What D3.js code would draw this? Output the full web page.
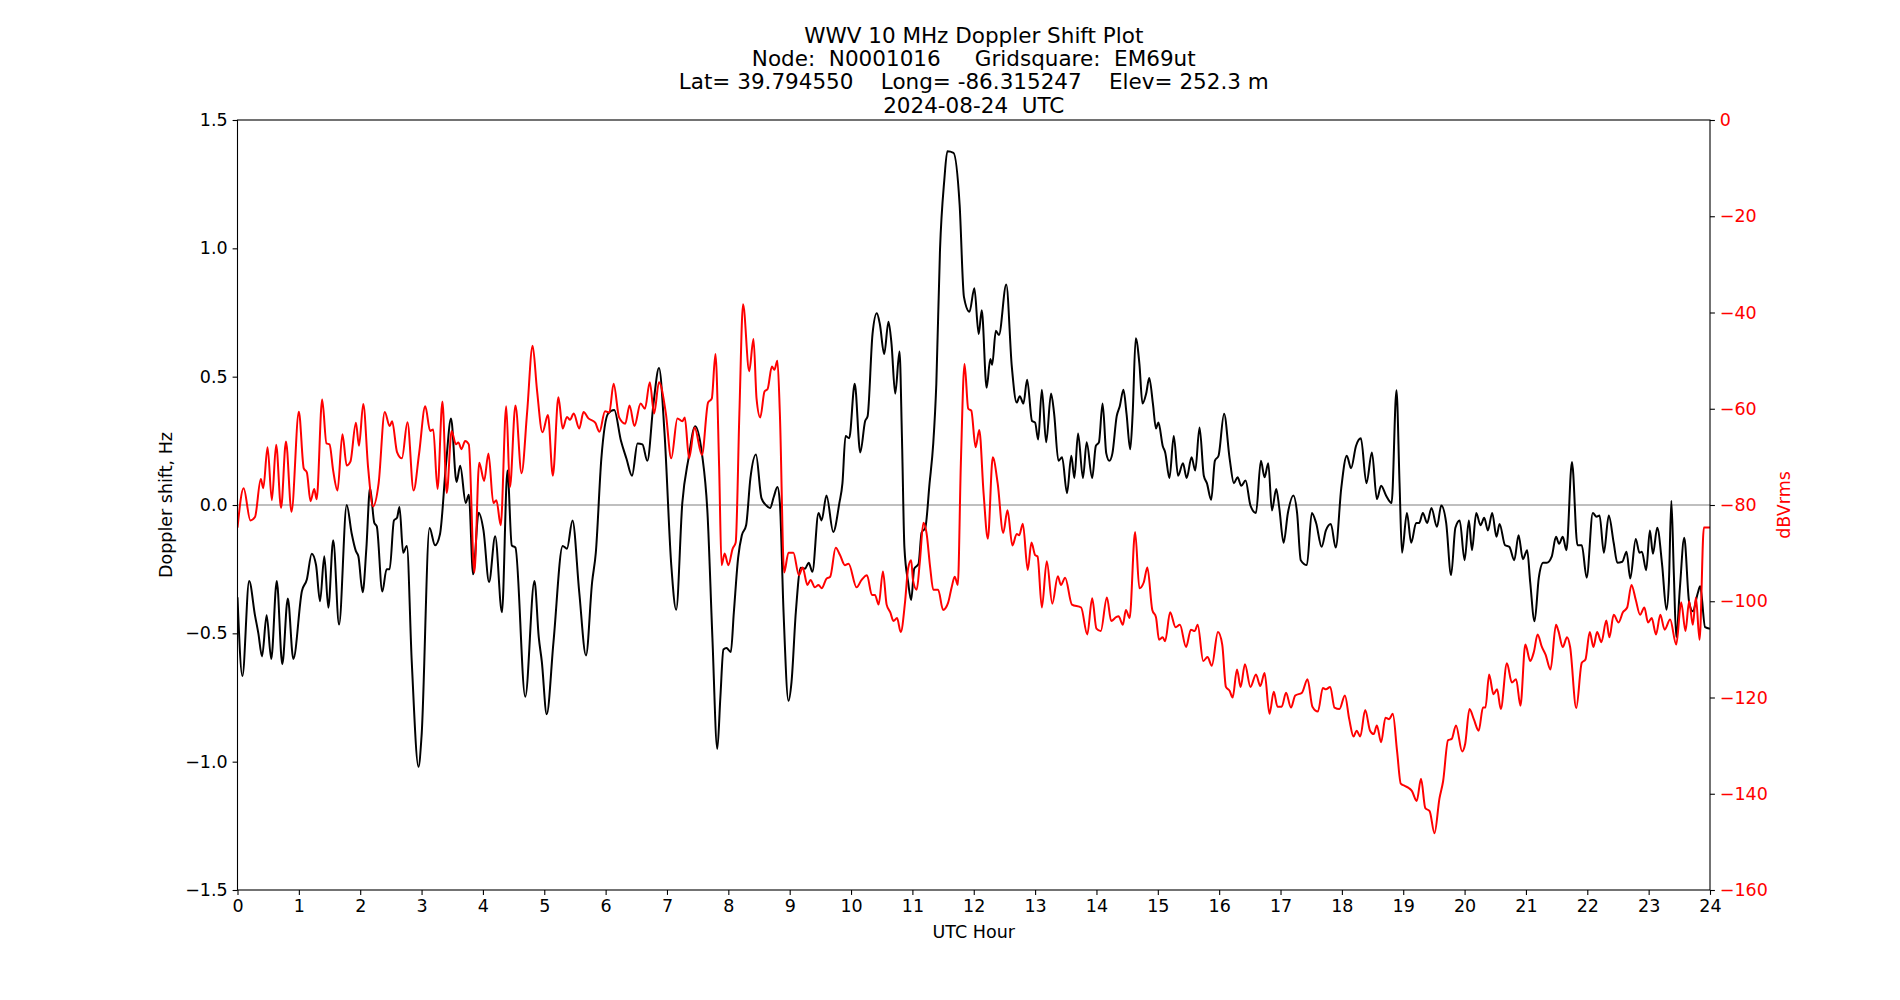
<!DOCTYPE html>
<html>
<head>
<meta charset="utf-8">
<script src="https://cdn.jsdelivr.net/npm/d3@7"></script>
<style>
  body { margin: 0; background: #fff; }
  svg text { font-family: "DejaVu Sans", sans-serif; }
</style>
</head>
<body>
<div id="chart"></div>
<script>
const titleLines = [
  'WWV 10 MHz Doppler Shift Plot',
  'Node:  N0001016     Gridsquare:  EM69ut',
  'Lat= 39.794550    Long= -86.315247    Elev= 252.3 m',
  '2024-08-24  UTC'
];
const xLabel = 'UTC Hour';
const yLabelLeft = 'Doppler shift, Hz';
const yLabelRight = 'dBVrms';

const hourTicks = [0, 1, 2, 3, 4, 5, 6, 7, 8, 9, 10, 11, 12, 13, 14, 15, 16, 17, 18, 19, 20, 21, 22, 23, 24];
const dopplerTicks = [-1.5, -1.0, -0.5, 0.0, 0.5, 1.0, 1.5];
const dbTicks = [0, -20, -40, -60, -80, -100, -120, -140, -160];

// [UTC hour, Doppler shift Hz]
const doppler = [
  [0, -0.36], [0.08, -0.666], [0.19, -0.296], [0.285, -0.43], [0.34, -0.5], [0.4, -0.59], [0.475, -0.43],
  [0.55, -0.6], [0.64, -0.296], [0.73, -0.62], [0.82, -0.364], [0.91, -0.6], [1.05, -0.335], [1.13, -0.29],
  [1.21, -0.19], [1.28, -0.234], [1.345, -0.375], [1.415, -0.2], [1.48, -0.4], [1.56, -0.137], [1.655, -0.466],
  [1.78, 0.0], [1.86, -0.11], [1.93, -0.18], [1.97, -0.2], [2.04, -0.34], [2.1, -0.17], [2.16, 0.066],
  [2.23, -0.07], [2.27, -0.083], [2.36, -0.337], [2.43, -0.25], [2.48, -0.25], [2.55, -0.06], [2.6, -0.05],
  [2.64, -0.008], [2.7, -0.186], [2.76, -0.16], [2.84, -0.61], [2.95, -1.02], [3.0, -0.9], [3.13, -0.09],
  [3.22, -0.157], [3.3, -0.114], [3.4, 0.163], [3.48, 0.337], [3.57, 0.09], [3.63, 0.153], [3.72, 0.008],
  [3.77, 0.04], [3.84, -0.27], [3.93, -0.03], [4.01, -0.1], [4.1, -0.3], [4.2, -0.122], [4.31, -0.418],
  [4.4, 0.134], [4.47, -0.157], [4.53, -0.166], [4.69, -0.747], [4.84, -0.296], [4.91, -0.515], [4.96, -0.61],
  [5.04, -0.815], [5.15, -0.534], [5.3, -0.16], [5.37, -0.17], [5.46, -0.06], [5.57, -0.34], [5.68, -0.586],
  [5.78, -0.3], [5.84, -0.186], [5.93, 0.18], [6.04, 0.356], [6.14, 0.37], [6.25, 0.25], [6.34, 0.18],
  [6.43, 0.114], [6.52, 0.24], [6.6, 0.236], [6.68, 0.172], [6.78, 0.395], [6.87, 0.534], [6.96, 0.28],
  [7.07, -0.234], [7.15, -0.408], [7.25, 0.008], [7.35, 0.18], [7.46, 0.307], [7.57, 0.2], [7.66, -0.03],
  [7.74, -0.515], [7.82, -0.95], [7.87, -0.75], [7.92, -0.563], [7.97, -0.557], [8.04, -0.573], [8.09, -0.418],
  [8.16, -0.205], [8.22, -0.118], [8.29, -0.079], [8.36, 0.105], [8.45, 0.197], [8.54, 0.027], [8.62, -0.002],
  [8.68, -0.012], [8.74, 0.031], [8.8, 0.07], [8.84, 0.008], [8.9, -0.418], [8.98, -0.763], [9.03, -0.689],
  [9.1, -0.418], [9.18, -0.244], [9.25, -0.248], [9.31, -0.225], [9.37, -0.26], [9.47, -0.031], [9.52, -0.06],
  [9.6, 0.037], [9.71, -0.105], [9.81, 0.008], [9.86, 0.085], [9.91, 0.269], [9.97, 0.26], [10.06, 0.472],
  [10.15, 0.205], [10.23, 0.327], [10.27, 0.346], [10.35, 0.666], [10.42, 0.747], [10.47, 0.704], [10.54, 0.588],
  [10.61, 0.714], [10.66, 0.627], [10.72, 0.434], [10.79, 0.598], [10.83, 0.26], [10.87, -0.166], [10.93, -0.3],
  [10.98, -0.37], [11.03, -0.248], [11.1, -0.23], [11.15, -0.108], [11.21, -0.089], [11.28, 0.085], [11.34, 0.24],
  [11.39, 0.472], [11.45, 0.995], [11.52, 1.266], [11.57, 1.378], [11.67, 1.372], [11.77, 1.169], [11.84, 0.811],
  [11.93, 0.753], [12.01, 0.844], [12.08, 0.666], [12.13, 0.759], [12.21, 0.457], [12.27, 0.569], [12.3, 0.546],
  [12.36, 0.679], [12.41, 0.662], [12.53, 0.859], [12.62, 0.54], [12.7, 0.399], [12.75, 0.424], [12.81, 0.395],
  [12.87, 0.488], [12.95, 0.327], [13.0, 0.321], [13.05, 0.255], [13.11, 0.449], [13.18, 0.244], [13.26, 0.434],
  [13.31, 0.356], [13.38, 0.172], [13.44, 0.186], [13.52, 0.046], [13.59, 0.192], [13.64, 0.105], [13.7, 0.279],
  [13.78, 0.105], [13.84, 0.244], [13.93, 0.105], [13.99, 0.23], [14.04, 0.244], [14.1, 0.395], [14.16, 0.201],
  [14.21, 0.172], [14.26, 0.201], [14.33, 0.346], [14.38, 0.385], [14.44, 0.449], [14.49, 0.356], [14.55, 0.217],
  [14.59, 0.356], [14.64, 0.65], [14.7, 0.55], [14.75, 0.395], [14.81, 0.434], [14.86, 0.495], [14.92, 0.395],
  [14.97, 0.298], [15.01, 0.321], [15.08, 0.23], [15.12, 0.205], [15.19, 0.105], [15.26, 0.269], [15.33, 0.114],
  [15.41, 0.163], [15.47, 0.105], [15.55, 0.186], [15.61, 0.134], [15.68, 0.302], [15.75, 0.114], [15.8, 0.085],
  [15.87, 0.02], [15.93, 0.172], [15.99, 0.192], [16.08, 0.356], [16.17, 0.182], [16.24, 0.085], [16.3, 0.108],
  [16.36, 0.075], [16.43, 0.095], [16.51, -0.002], [16.6, -0.031], [16.68, 0.172], [16.74, 0.108], [16.8, 0.163],
  [16.86, -0.021], [16.93, 0.062], [16.98, -0.012], [17.05, -0.147], [17.12, -0.031], [17.21, 0.037], [17.27, -0.031],
  [17.33, -0.215], [17.43, -0.234], [17.51, -0.031], [17.58, -0.07], [17.67, -0.163], [17.74, -0.099], [17.82, -0.074],
  [17.9, -0.166], [17.99, 0.066], [18.08, 0.192], [18.15, 0.143], [18.23, 0.23], [18.31, 0.26], [18.4, 0.085],
  [18.49, 0.205], [18.57, 0.023], [18.64, 0.075], [18.72, 0.037], [18.81, 0.008], [18.89, 0.447], [18.94, 0.085],
  [18.98, -0.186], [19.06, -0.031], [19.13, -0.147], [19.21, -0.07], [19.26, -0.07], [19.32, -0.031], [19.39, -0.07],
  [19.46, -0.012], [19.55, -0.085], [19.62, -0.002], [19.7, -0.07], [19.78, -0.273], [19.85, -0.089], [19.92, -0.06],
  [20.0, -0.215], [20.07, -0.06], [20.12, -0.176], [20.19, -0.031], [20.26, -0.079], [20.32, -0.05], [20.38, -0.099],
  [20.45, -0.031], [20.52, -0.124], [20.57, -0.074], [20.66, -0.157], [20.73, -0.163], [20.81, -0.215], [20.88, -0.118],
  [20.95, -0.211], [21.02, -0.176], [21.07, -0.302], [21.14, -0.453], [21.21, -0.283], [21.28, -0.225], [21.34, -0.225],
  [21.42, -0.201], [21.49, -0.124], [21.54, -0.151], [21.6, -0.124], [21.66, -0.176], [21.75, 0.168], [21.84, -0.157],
  [21.91, -0.157], [21.99, -0.283], [22.09, -0.031], [22.15, -0.046], [22.2, -0.041], [22.27, -0.186], [22.35, -0.041],
  [22.43, -0.147], [22.49, -0.225], [22.57, -0.221], [22.64, -0.182], [22.7, -0.286], [22.79, -0.132], [22.85, -0.186],
  [22.89, -0.182], [22.96, -0.254], [23.02, -0.099], [23.07, -0.19], [23.14, -0.089], [23.22, -0.234], [23.29, -0.408],
  [23.33, -0.302], [23.37, 0.017], [23.41, -0.263], [23.45, -0.515], [23.51, -0.321], [23.58, -0.128], [23.66, -0.379],
  [23.72, -0.414], [23.8, -0.344], [23.84, -0.317], [23.92, -0.476], [24.0, -0.482]
];

// [UTC hour, signal level dBVrms]
const signal = [
  [0, -84.7], [0.1, -76.5], [0.21, -83.2], [0.285, -82.5], [0.38, -74.6], [0.42, -76.5], [0.49, -68],
  [0.56, -79], [0.63, -67.5], [0.71, -80.6], [0.79, -66.8], [0.88, -81.4], [1.0, -60.6], [1.08, -72.4],
  [1.13, -73.2], [1.19, -79.2], [1.25, -76.7], [1.29, -78.8], [1.38, -58.1], [1.45, -67.2], [1.5, -67.4],
  [1.56, -72.9], [1.63, -77], [1.71, -65.3], [1.78, -71.8], [1.84, -71], [1.93, -62.9], [1.98, -67.7],
  [2.05, -59], [2.13, -72.4], [2.21, -80.3], [2.3, -75.5], [2.4, -60.7], [2.48, -63.6], [2.52, -62.6],
  [2.6, -69], [2.68, -70.3], [2.77, -62.8], [2.87, -77], [2.96, -69.3], [3.06, -59.5], [3.14, -64.6],
  [3.19, -64.3], [3.26, -76.7], [3.34, -58.5], [3.41, -77.5], [3.49, -64.6], [3.56, -67.4], [3.6, -67],
  [3.65, -68.4], [3.71, -66.7], [3.77, -67.4], [3.86, -94], [3.94, -71.2], [4.02, -75], [4.09, -69.3],
  [4.17, -79.6], [4.22, -79], [4.29, -84.2], [4.38, -59.5], [4.44, -76.3], [4.53, -59.3], [4.63, -73.4],
  [4.72, -60.8], [4.81, -46.9], [4.88, -55.9], [4.97, -64.9], [5.06, -61.3], [5.14, -73.9], [5.23, -57.6],
  [5.3, -64.1], [5.37, -61.7], [5.42, -62.3], [5.48, -61], [5.57, -64.1], [5.64, -60.7], [5.72, -62],
  [5.83, -62.9], [5.9, -64.8], [5.99, -60.5], [6.06, -60.8], [6.13, -54.8], [6.22, -61.8], [6.32, -63.1],
  [6.39, -59.3], [6.47, -63.6], [6.57, -58.9], [6.64, -60], [6.72, -54.5], [6.79, -61], [6.87, -54.5],
  [6.98, -60.8], [7.07, -70.3], [7.17, -62], [7.25, -62.6], [7.29, -61.8], [7.36, -70.3], [7.45, -63.9],
  [7.57, -69.6], [7.67, -58.7], [7.73, -57.9], [7.79, -48.6], [7.85, -72], [7.89, -92.5], [7.94, -90.1],
  [8.0, -92.5], [8.07, -89.1], [8.12, -87.8], [8.18, -61], [8.24, -38.3], [8.34, -52.2], [8.41, -45.5],
  [8.46, -57.9], [8.52, -61.8], [8.59, -56.4], [8.64, -55.9], [8.71, -51.2], [8.75, -51.9], [8.8, -50],
  [8.84, -61], [8.91, -94], [8.98, -89.9], [9.06, -89.9], [9.15, -94.6], [9.21, -93], [9.29, -96.6],
  [9.34, -95.6], [9.41, -97.1], [9.47, -96.6], [9.52, -97.3], [9.6, -95.3], [9.66, -94.9], [9.75, -88.9],
  [9.82, -90.4], [9.9, -92.5], [9.96, -92.2], [10.09, -97.1], [10.17, -95.6], [10.26, -94.6], [10.34, -98.7],
  [10.39, -98.7], [10.45, -100.7], [10.52, -93.8], [10.58, -100.7], [10.64, -102.3], [10.69, -104.1], [10.75, -103.5],
  [10.81, -106.4], [10.88, -100.2], [10.93, -93.2], [10.98, -91.5], [11.01, -95.6], [11.07, -97.6], [11.12, -92],
  [11.18, -83.7], [11.23, -85.8], [11.29, -93], [11.34, -97.6], [11.42, -97.6], [11.5, -101.8], [11.58, -100.4],
  [11.64, -97.1], [11.69, -94.9], [11.74, -96.6], [11.79, -71.3], [11.85, -50.7], [11.91, -60], [11.96, -60.4],
  [12.03, -68], [12.09, -64.4], [12.16, -77.5], [12.23, -87], [12.31, -70.1], [12.39, -75.5], [12.48, -85.8],
  [12.55, -81.1], [12.63, -88.4], [12.7, -86], [12.74, -86.3], [12.8, -83.9], [12.88, -93.5], [12.94, -87.8],
  [13.0, -90.4], [13.04, -90.7], [13.11, -101.3], [13.19, -91.7], [13.28, -100.5], [13.37, -94.8], [13.42, -96.6],
  [13.49, -95.1], [13.6, -100.7], [13.75, -101.3], [13.85, -106.9], [13.93, -99.4], [14.0, -105.7], [14.07, -106.2],
  [14.17, -99.2], [14.24, -104.1], [14.32, -103.3], [14.36, -103.1], [14.43, -104.9], [14.48, -101.8], [14.54, -103.5],
  [14.63, -85.6], [14.7, -97.3], [14.77, -96.1], [14.83, -93], [14.91, -101.8], [14.97, -103.3], [15.02, -108],
  [15.08, -107.5], [15.12, -108.3], [15.2, -102.3], [15.29, -105.4], [15.36, -104.9], [15.46, -109.5], [15.54, -105.9],
  [15.6, -106.2], [15.65, -104.9], [15.74, -112.4], [15.81, -111.6], [15.88, -113.4], [15.98, -106.4], [16.05, -109],
  [16.11, -117.8], [16.17, -118.6], [16.22, -120], [16.29, -114.2], [16.35, -117.8], [16.42, -113.1], [16.51, -117.8],
  [16.6, -115.2], [16.67, -117.6], [16.74, -114.9], [16.82, -123.4], [16.89, -118.8], [16.95, -121.9], [17.02, -121.9],
  [17.09, -119], [17.17, -122.1], [17.24, -119.6], [17.35, -119], [17.44, -116.2], [17.52, -121.9], [17.61, -122.9],
  [17.69, -118], [17.74, -118.3], [17.81, -117.8], [17.88, -122.1], [17.96, -122.4], [18.05, -119.6], [18.12, -124.5],
  [18.19, -128.1], [18.24, -126.9], [18.3, -128.1], [18.38, -122.6], [18.46, -126.9], [18.52, -127.6], [18.57, -125.8],
  [18.64, -129.3], [18.71, -124.2], [18.77, -124.5], [18.83, -123.4], [18.9, -131.2], [18.96, -137.9], [19.03, -138.4],
  [19.1, -138.9], [19.14, -139.4], [19.22, -141.5], [19.29, -136.9], [19.36, -143], [19.43, -143.6], [19.51, -148.2],
  [19.59, -141], [19.65, -137.4], [19.73, -128.9], [19.79, -128.6], [19.86, -125.8], [19.96, -131.2], [20.01, -129.6],
  [20.08, -122.4], [20.15, -124.5], [20.23, -126.9], [20.3, -122.1], [20.34, -122.1], [20.4, -115.2], [20.47, -119.3],
  [20.53, -118.3], [20.59, -122.4], [20.69, -112.9], [20.77, -116.9], [20.84, -116.2], [20.91, -121.7], [20.99, -109],
  [21.07, -112.4], [21.13, -110.5], [21.19, -106.9], [21.26, -109.5], [21.32, -111.1], [21.4, -114.2], [21.49, -104.9],
  [21.53, -106.2], [21.6, -109.5], [21.67, -107.5], [21.72, -109.5], [21.82, -122.2], [21.91, -112.8], [21.97, -112.1],
  [22.04, -106.4], [22.1, -109.5], [22.16, -106.4], [22.23, -108.5], [22.31, -104], [22.36, -107.5], [22.43, -102.8],
  [22.51, -104.4], [22.58, -102.3], [22.65, -101.3], [22.72, -96.6], [22.79, -99.7], [22.86, -102.8], [22.93, -101.3],
  [22.99, -104.4], [23.05, -103.5], [23.12, -106.9], [23.19, -102.8], [23.26, -105.9], [23.35, -103.8], [23.45, -109],
  [23.53, -100.2], [23.6, -106.2], [23.66, -100], [23.72, -104.9], [23.77, -99.2], [23.83, -108], [23.9, -84.7],
  [24.0, -84.7]
];

const width = 1900;
const height = 1000;
const plot = { left: 237.5, right: 1710, top: 120, bottom: 890 };
const fontSize = 17.5;
const tickLen = 4.9;

const svg = d3.select('#chart').append('svg')
  .attr('width', width)
  .attr('height', height);

const x = d3.scaleLinear().domain([0, 24]).range([plot.left, plot.right]);
const yLeft = d3.scaleLinear().domain([-1.5, 1.5]).range([plot.bottom, plot.top]);
const yRight = d3.scaleLinear().domain([-160, 0]).range([plot.bottom, plot.top]);

svg.append('clipPath')
  .attr('id', 'plot-clip')
  .append('rect')
  .attr('x', plot.left)
  .attr('y', plot.top)
  .attr('width', plot.right - plot.left)
  .attr('height', plot.bottom - plot.top);

// zero reference line
svg.append('line')
  .attr('x1', plot.left)
  .attr('x2', plot.right)
  .attr('y1', yLeft(0))
  .attr('y2', yLeft(0))
  .attr('stroke', '#808080')
  .attr('stroke-width', 1.1);

const lines = svg.append('g').attr('clip-path', 'url(#plot-clip)');

lines.append('path')
  .datum(doppler)
  .attr('fill', 'none')
  .attr('stroke', '#000')
  .attr('stroke-width', 2)
  .attr('stroke-linejoin', 'round')
  .attr('d', d3.line().x(d => x(d[0])).y(d => yLeft(d[1])).curve(d3.curveMonotoneX));

lines.append('path')
  .datum(signal)
  .attr('fill', 'none')
  .attr('stroke', '#ff0000')
  .attr('stroke-width', 2)
  .attr('stroke-linejoin', 'round')
  .attr('d', d3.line().x(d => x(d[0])).y(d => yRight(d[1])).curve(d3.curveMonotoneX));

const styleAxis = (g, color) => {
  g.select('.domain').remove();
  g.selectAll('.tick line').attr('stroke', '#000').attr('stroke-width', 1.1);
  g.selectAll('.tick text')
    .attr('fill', color)
    .style('font-size', `${fontSize}px`)
    .style('font-family', '"DejaVu Sans", sans-serif');
};

svg.append('g')
  .attr('transform', `translate(0,${plot.bottom})`)
  .call(d3.axisBottom(x).tickValues(hourTicks).tickFormat(d3.format('d')).tickSize(tickLen).tickPadding(tickLen))
  .call(g => styleAxis(g, '#000'));

svg.append('g')
  .attr('transform', `translate(${plot.left},0)`)
  .call(d3.axisLeft(yLeft).tickValues(dopplerTicks).tickFormat(d3.format('.1f')).tickSize(tickLen).tickPadding(tickLen))
  .call(g => styleAxis(g, '#000'));

svg.append('g')
  .attr('transform', `translate(${plot.right},0)`)
  .call(d3.axisRight(yRight).tickValues(dbTicks).tickFormat(d3.format('d')).tickSize(tickLen).tickPadding(tickLen))
  .call(g => styleAxis(g, '#ff0000'));

// frame
svg.append('rect')
  .attr('x', plot.left)
  .attr('y', plot.top)
  .attr('width', plot.right - plot.left)
  .attr('height', plot.bottom - plot.top)
  .attr('fill', 'none')
  .attr('stroke', '#000')
  .attr('stroke-width', 1.1);

svg.append('g')
  .selectAll('text')
  .data(titleLines)
  .join('text')
  .attr('x', (plot.left + plot.right) / 2)
  .attr('y', (d, i) => 42.5 + i * 23.4)
  .attr('text-anchor', 'middle')
  .style('font-size', '21.5px')
  .style('white-space', 'pre')
  .attr('xml:space', 'preserve')
  .text(d => d);

svg.append('text')
  .attr('x', (plot.left + plot.right) / 2)
  .attr('y', 938)
  .attr('text-anchor', 'middle')
  .style('font-size', `${fontSize}px`)
  .text(xLabel);

svg.append('text')
  .attr('transform', `translate(172,${(plot.top + plot.bottom) / 2}) rotate(-90)`)
  .attr('text-anchor', 'middle')
  .style('font-size', `${fontSize}px`)
  .text(yLabelLeft);

svg.append('text')
  .attr('transform', `translate(1790,${(plot.top + plot.bottom) / 2}) rotate(-90)`)
  .attr('text-anchor', 'middle')
  .attr('fill', '#ff0000')
  .style('font-size', `${fontSize}px`)
  .text(yLabelRight);
</script>
</body>
</html>
